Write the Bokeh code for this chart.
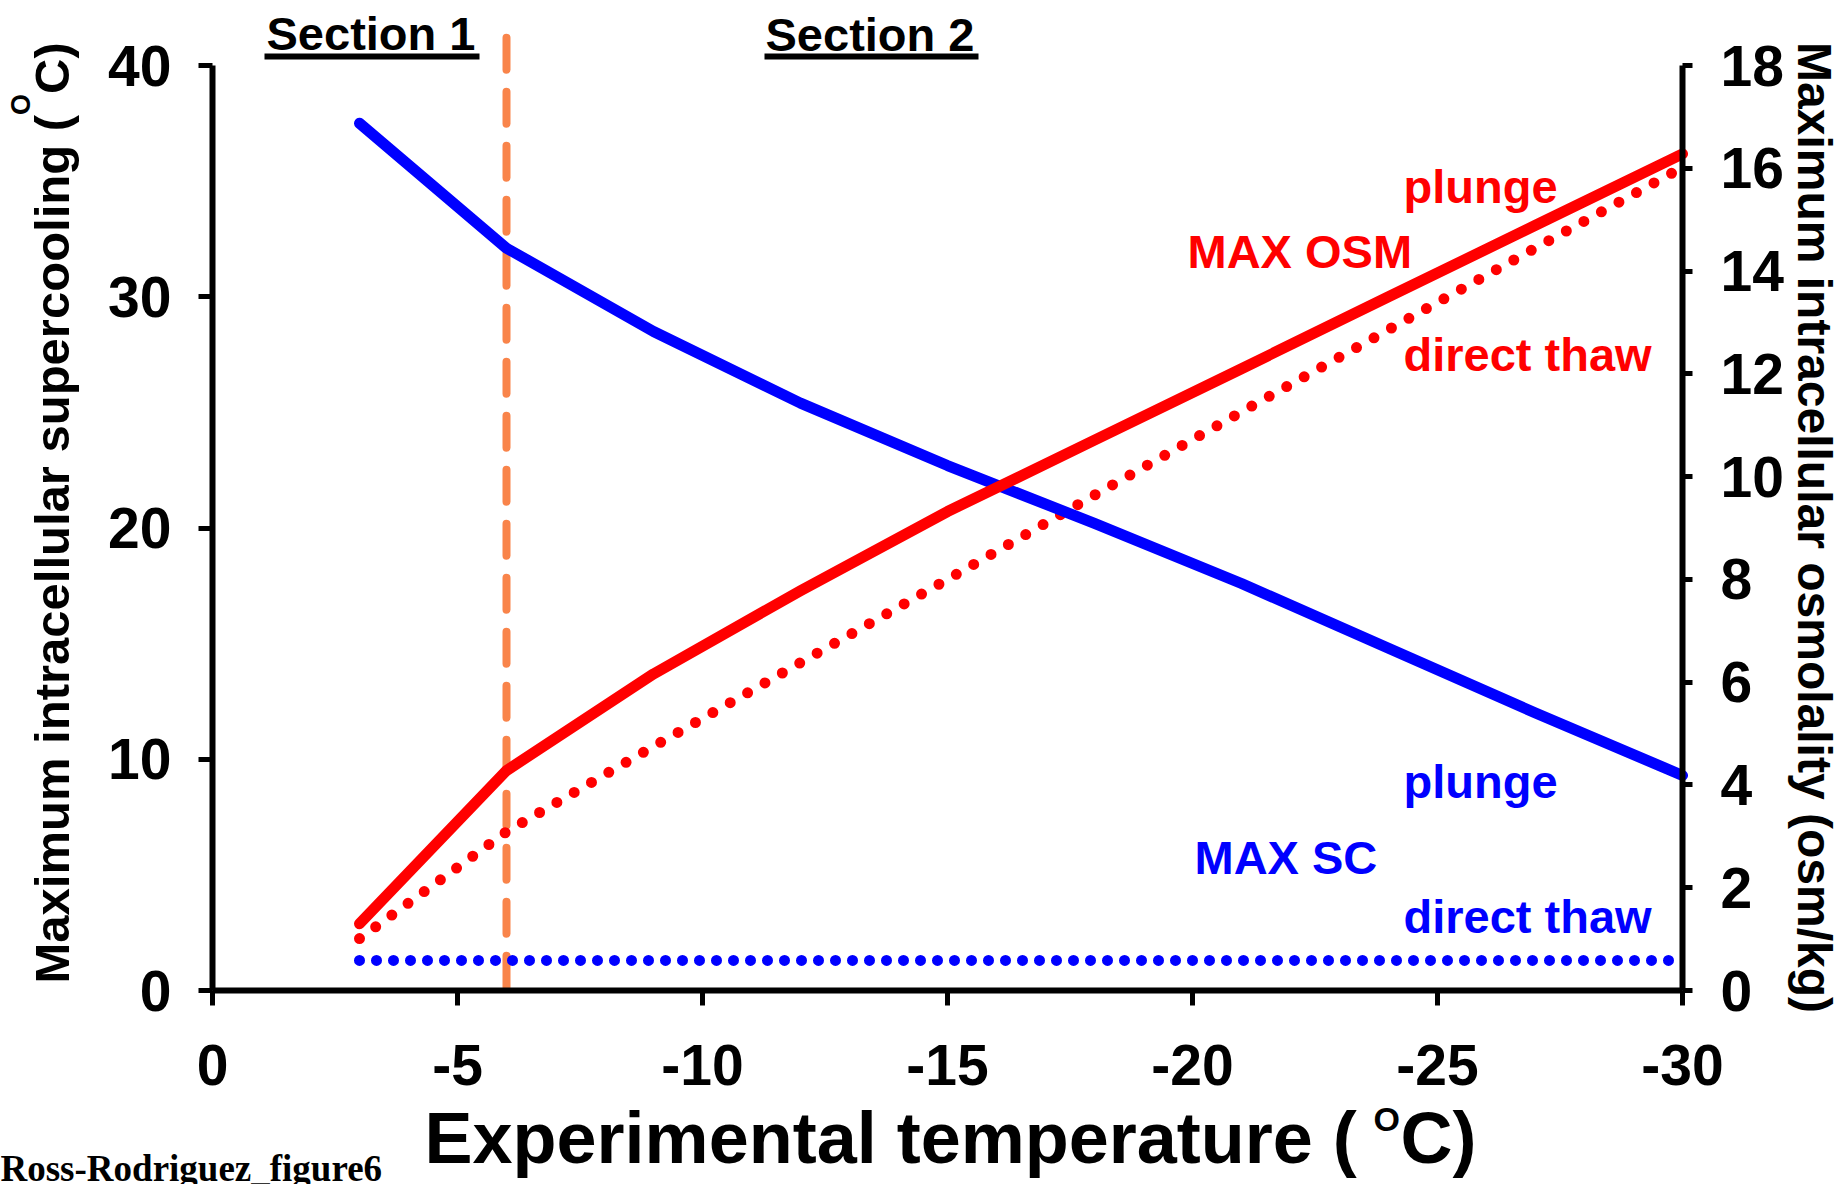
import math

from bokeh.embed import file_html
from bokeh.models import FixedTicker, Label, LinearAxis, Range1d
from bokeh.plotting import figure
from bokeh.resources import INLINE

# ---------------------------------------------------------------- data
temps = [-3, -6, -9, -12, -15, -18, -21, -24, -27, -30]

# maximum intracellular supercooling (deg C), left axis
sc_plunge = [37.5, 32.1, 28.5, 25.4, 22.7, 20.2, 17.6, 14.8, 12.0, 9.3]
sc_direct_thaw = [1.3, 1.3, 1.3, 1.3, 1.3, 1.3, 1.3, 1.3, 1.3, 1.3]

# maximum intracellular osmolality (osm/kg), right axis
osm_plunge = [1.30, 4.28, 6.16, 7.78, 9.32, 10.71, 12.10, 13.50, 14.89, 16.28]
osm_direct_thaw = [1.01, 3.09, 4.75, 6.38, 8.00, 9.64, 11.26, 12.86, 14.45, 16.02]

section_boundary = -6
section_boundary_top = 41.2

x_ticks = [0, -5, -10, -15, -20, -25, -30]
sc_ticks = [0, 10, 20, 30, 40]
osm_ticks = [0, 2, 4, 6, 8, 10, 12, 14, 16, 18]

# ---------------------------------------------------------------- geometry
# The frame covers the whole canvas; the axes sit at fixed data locations
# so that titles and captions around them stay inside the drawable area.
W, H = 1843, 1184
AX_L, AX_R, AX_B, AX_T = 212, 1682, 990, 65   # axis box in pixels
X_MIN, X_MAX = 0, -30
SC_MAX, OSM_MAX = 40, 18

x_per_px = (X_MAX - X_MIN) / (AX_R - AX_L)
sc_per_px = SC_MAX / (AX_B - AX_T)
osm_per_px = OSM_MAX / (AX_B - AX_T)

x_range = Range1d(X_MIN - AX_L * x_per_px, X_MIN + (W - AX_L) * x_per_px)
sc_range = Range1d(-(H - AX_B) * sc_per_px, AX_B * sc_per_px)
osm_range = Range1d(-(H - AX_B) * osm_per_px, AX_B * osm_per_px)

FONT = "Liberation Sans"
RED = "#FF0000"
BLUE = "#0000FF"
ORANGE = "#F9844A"
BASELINE_SHIFT = 0.34   # fraction of the font size


def px_x(px):
    return X_MIN + (px - AX_L) * x_per_px


def px_y(py):
    return (AX_B - py) * sc_per_px


p = figure(
    width=W, height=H,
    x_range=x_range, y_range=sc_range,
    output_backend="svg", toolbar_location=None,
    min_border=0, min_border_left=0, min_border_right=0,
    min_border_top=0, min_border_bottom=0,
)
p.outline_line_color = None
p.xgrid.visible = False
p.ygrid.visible = False
p.background_fill_color = "white"
p.border_fill_color = "white"

p.extra_y_ranges = {"osm": osm_range}
right_axis = LinearAxis(y_range_name="osm")
p.add_layout(right_axis, "right")


def style_axis(ax, ticks, tick_out, standoff, bounds, location):
    ax.ticker = FixedTicker(ticks=ticks)
    ax.major_label_overrides = {t: str(t) for t in ticks}
    ax.bounds = bounds
    ax.fixed_location = location
    ax.axis_line_width = 6
    ax.axis_line_color = "black"
    ax.major_tick_line_width = 5
    ax.major_tick_line_color = "black"
    ax.major_tick_out = tick_out
    ax.major_tick_in = 0
    ax.minor_tick_out = 0
    ax.minor_tick_in = 0
    ax.major_label_text_font = FONT
    ax.major_label_text_font_size = "57px"
    ax.major_label_text_font_style = "bold"
    ax.major_label_text_color = "black"
    ax.major_label_standoff = standoff


style_axis(p.xaxis[0], x_ticks, 15, 39, (X_MAX, X_MIN), 0)
style_axis(p.yaxis[0], sc_ticks, 14, 27, (0, SC_MAX), X_MIN)
style_axis(right_axis, osm_ticks, 10, 28, (0, OSM_MAX), X_MAX)

# ---------------------------------------------------------------- series
p.line([section_boundary, section_boundary], [section_boundary_top, 0],
       line_color=ORANGE, line_width=8, line_dash="32 22", line_cap="round")

p.line(temps, sc_direct_thaw, line_color=BLUE, line_width=11,
       line_dash="0 17", line_cap="round")
p.line(temps, osm_direct_thaw, y_range_name="osm", line_color=RED,
       line_width=11, line_dash="0 20", line_cap="round")
p.line(temps, sc_plunge, line_color=BLUE, line_width=11,
       line_cap="round", line_join="round")
p.line(temps, osm_plunge, y_range_name="osm", line_color=RED,
       line_width=11, line_cap="round", line_join="round")


# ---------------------------------------------------------------- texts
def add_text(text, px, py, size, color="black", font=FONT, align="left",
             angle=0.0, style="bold"):
    """Place text with its baseline at pixel (px, py)."""
    shift = BASELINE_SHIFT * size
    if angle == 0.0:
        py -= shift
    elif angle > 0:
        px -= shift
    else:
        px += shift
    p.add_layout(Label(
        x=px_x(px), y=px_y(py), text=text,
        text_font=font, text_font_size=f"{size}px", text_font_style=style,
        text_color=color, text_align=align, text_baseline="alphabetic",
        angle=angle,
    ))


# section headings with underline
add_text("Section 1", 266, 49, 47)
add_text("Section 2", 765, 50, 47)
p.segment(x0=[px_x(264), px_x(764)], y0=[px_y(56), px_y(56)],
          x1=[px_x(479), px_x(978)], y1=[px_y(56), px_y(56)],
          line_color="black", line_width=6)

# series annotations
add_text("plunge", 1403, 202, 47, RED)
add_text("MAX OSM", 1187, 267, 47, RED)
add_text("direct thaw", 1403, 370, 47, RED)
add_text("plunge", 1403, 797, 47, BLUE)
add_text("MAX SC", 1194, 873, 47, BLUE)
add_text("direct thaw", 1403, 932, 47, BLUE)

# x axis title with superscript O
add_text("Experimental temperature (", 424, 1162, 72)
add_text("O", 1373, 1130, 34)
add_text("C)", 1400, 1162, 72)

# left axis title, reading upwards
add_text("Maximum intracellular supercooling (", 68, 983, 49, angle=math.pi / 2)
add_text("O", 30, 114.4, 27, angle=math.pi / 2)
add_text("C)", 68, 93.4, 49, angle=math.pi / 2)

# right axis title, reading downwards
add_text("Maximum intracellular osmolality (osm/kg)", 1798, 527, 48,
         align="center", angle=-math.pi / 2)

# file caption
add_text("Ross-Rodriguez_figure6", 0, 1181, 37, font="Liberation Serif")

open("out.html", "w").write(file_html(p, INLINE))
